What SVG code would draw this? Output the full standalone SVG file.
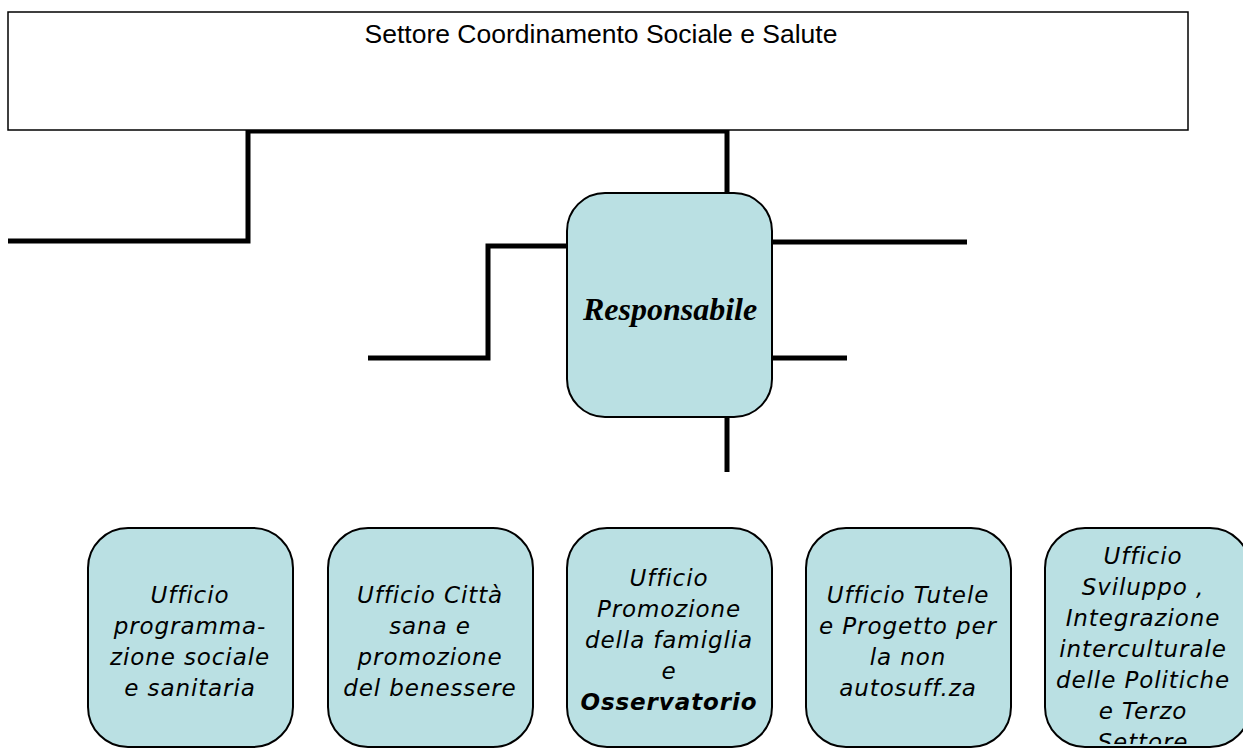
<svg xmlns="http://www.w3.org/2000/svg" width="1243" height="749" viewBox="0 0 1243 749">
<style>
.box{fill:#bae0e3;stroke:#000;stroke-width:2}
.conn{fill:none;stroke:#000;stroke-width:5;stroke-linejoin:miter}
.t{font-family:"DejaVu Sans",sans-serif;font-style:italic;font-size:23px;letter-spacing:0.9px;text-anchor:middle;fill:#000}
.title{font-family:"Liberation Sans",Arial,sans-serif;font-size:26.5px;text-anchor:middle;fill:#000}
.resp{font-family:"Liberation Serif","Times New Roman",serif;font-style:italic;font-weight:bold;font-size:32px;text-anchor:middle;fill:#000}
</style>
<defs>
<clipPath id="clip5"><rect x="1046" y="529" width="200" height="215"/></clipPath>
</defs>
<rect width="1243" height="749" fill="#fff"/>
<g id="connectors">
<path class="conn" d="M727,193 V131 H248 V241 H8"/>
<path class="conn" d="M567,246 H488 V358 H368"/>
<path class="conn" d="M772,242 H967"/>
<path class="conn" d="M772,358 H847"/>
<path class="conn" d="M727,417 V472"/>
</g>
<g id="settore">
<rect x="8" y="12" width="1180" height="118" fill="#fff" stroke="#000" stroke-width="1.5"/>
<text class="title" x="601" y="43">Settore Coordinamento Sociale e Salute</text>
</g>
<g id="responsabile">
<rect class="box" x="567" y="193" width="205" height="224" rx="38" ry="38"/>
<text class="resp" x="670" y="320">Responsabile</text>
</g>
<g id="ufficio1">
<rect class="box" x="88" y="528" width="205" height="219" rx="40" ry="40"/>
<text class="t" x="190" y="603">Ufficio</text>
<text class="t" x="190" y="634">programma-</text>
<text class="t" x="190" y="665">zione sociale</text>
<text class="t" x="190" y="696">e sanitaria</text>
</g>
<g id="ufficio2">
<rect class="box" x="328" y="528" width="205" height="219" rx="40" ry="40"/>
<text class="t" x="430" y="603">Ufficio Città</text>
<text class="t" x="430" y="634">sana e</text>
<text class="t" x="430" y="665">promozione</text>
<text class="t" x="430" y="696">del benessere</text>
</g>
<g id="ufficio3">
<rect class="box" x="567" y="528" width="205" height="219" rx="40" ry="40"/>
<text class="t" x="669" y="586">Ufficio</text>
<text class="t" x="669" y="617">Promozione</text>
<text class="t" x="669" y="648">della famiglia</text>
<text class="t" x="669" y="679">e</text>
<text class="t" x="669" y="710" font-weight="bold">Osservatorio</text>
</g>
<g id="ufficio4">
<rect class="box" x="806" y="528" width="205" height="219" rx="40" ry="40"/>
<text class="t" x="908" y="603">Ufficio Tutele</text>
<text class="t" x="908" y="634">e Progetto per</text>
<text class="t" x="908" y="665">la non</text>
<text class="t" x="908" y="696">autosuff.za</text>
</g>
<g id="ufficio5">
<rect class="box" x="1045" y="528" width="205" height="219" rx="40" ry="40"/>
<g clip-path="url(#clip5)">
<text class="t" x="1143" y="564">Ufficio</text>
<text class="t" x="1143" y="595">Sviluppo ,</text>
<text class="t" x="1143" y="626">Integrazione</text>
<text class="t" x="1143" y="657">interculturale</text>
<text class="t" x="1143" y="688">delle Politiche</text>
<text class="t" x="1143" y="719">e Terzo</text>
<text class="t" x="1143" y="750">Settore</text>
</g>
</g>
</svg>
